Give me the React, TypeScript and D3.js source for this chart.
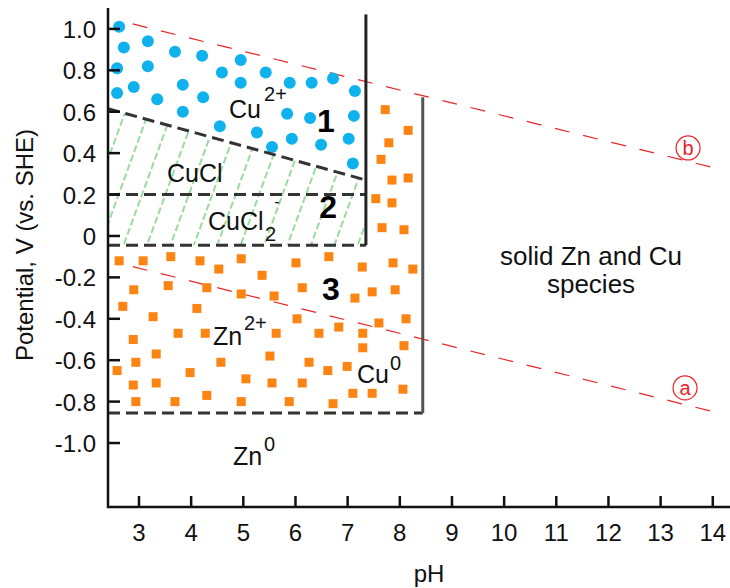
import React from "react";
import * as d3 from "d3";

const W = 730;
const H = 588;

// Axis domain and ticks
const pHDomain = [2.406, 14.33];
const vDomain = [1.101, -1.309];
const xTicks = [3, 4, 5, 6, 7, 8, 9, 10, 11, 12, 13, 14];
const yTicks = [1.0, 0.8, 0.6, 0.4, 0.2, 0, -0.2, -0.4, -0.6, -0.8, -1.0];
const yTickLabels = ["1.0", "0.8", "0.6", "0.4", "0.2", "0", "-0.2", "-0.4", "-0.6", "-0.8", "-1.0"];

// Region boundaries (pH, V)
const cuRegionPH = [2.406, 7.35];
const cuTopV = 1.07;
const cuBottomV = -0.045;
const cuclUpperLine = [[2.406, 0.615], [7.35, 0.27]];
const cuclLowerV = 0.2;
const znRegionPH = [2.406, 8.44];
const znRightTopV = 0.67;
const znBottomV = -0.855;

// Water stability lines (pH, V)
const lineA = [[2.88, -0.148], [14.03, -0.85]];
const lineB = [[2.88, 1.024], [14.03, 0.329]];

// Cu2+ markers (pH, V)
const cuDots = [
  [2.62, 1.01], [2.71, 0.91], [3.17, 0.94], [3.69, 0.89], [4.21, 0.87], [4.95, 0.85],
  [3.17, 0.82], [2.58, 0.81], [4.59, 0.79], [5.43, 0.79], [4.95, 0.74], [3.84, 0.73],
  [2.9, 0.72], [2.58, 0.69], [5.89, 0.74], [6.31, 0.74], [6.72, 0.76], [7.14, 0.7],
  [3.35, 0.66], [4.23, 0.67], [3.84, 0.6], [5.84, 0.59], [7.12, 0.58], [4.55, 0.53],
  [5.26, 0.5], [5.93, 0.47], [7.02, 0.47], [6.28, 0.57], [6.49, 0.44], [5.55, 0.43],
  [7.1, 0.35],
];

// Zn2+ markers (pH, V)
const znSquares = [
  [2.62, -0.12], [3.08, -0.12], [3.61, -0.1], [4.17, -0.12], [4.96, -0.11], [4.53, -0.16],
  [5.36, -0.19], [6.01, -0.13], [6.64, -0.1], [7.28, -0.15], [7.87, -0.13], [8.25, -0.16],
  [2.9, -0.26], [3.56, -0.24], [4.3, -0.25], [4.96, -0.28], [5.59, -0.29], [6.13, -0.25],
  [7.14, -0.3], [7.47, -0.27], [7.91, -0.26],
  [2.69, -0.34], [3.27, -0.39], [4.11, -0.35], [6.03, -0.4], [6.83, -0.44], [7.6, -0.42], [8.12, -0.4],
  [3.75, -0.47], [4.27, -0.47], [5.63, -0.47], [6.45, -0.47], [7.29, -0.47], [2.89, -0.5],
  [8.08, -0.53], [7.29, -0.54], [3.33, -0.57], [5.51, -0.58],
  [2.94, -0.61], [4.57, -0.61], [6.26, -0.61], [6.99, -0.63], [2.58, -0.65], [3.98, -0.66], [6.62, -0.65],
  [5.05, -0.69], [5.55, -0.71], [6.13, -0.71], [2.89, -0.72], [3.33, -0.71], [7.1, -0.76],
  [7.47, -0.76], [8.06, -0.74], [4.3, -0.77],
  [2.94, -0.8], [3.69, -0.8], [4.96, -0.8], [5.88, -0.8], [6.72, -0.81],
  [7.72, 0.61], [8.16, 0.51], [7.79, 0.45], [7.64, 0.37], [7.85, 0.27], [8.16, 0.28],
  [7.54, 0.18], [7.85, 0.16], [7.66, 0.04], [8.08, 0.03],
];

// Text labels (pH, V positions)
const labels = [
  { t: "Cu", pH: 4.726, v: 0.57, size: 25, w: 400, a: "start", c: "#111" },
  { t: "2+", pH: 5.397, v: 0.652, size: 20, w: 400, a: "start", c: "#111" },
  { t: "1", pH: 6.585, v: 0.502, size: 32, w: 700, a: "middle", c: "#000" },
  { t: "CuCl", pH: 3.537, v: 0.261, size: 25, w: 400, a: "start", c: "#111" },
  { t: "2", pH: 6.624, v: 0.087, size: 32, w: 700, a: "middle", c: "#000" },
  { t: "CuCl", pH: 4.323, v: 0.029, size: 25, w: 400, a: "start", c: "#111" },
  { t: "2", pH: 5.416, v: -0.024, size: 20, w: 400, a: "start", c: "#111" },
  { t: "-", pH: 5.646, v: 0.14, size: 16, w: 400, a: "middle", c: "#111" },
  { t: "3", pH: 6.681, v: -0.309, size: 32, w: 700, a: "middle", c: "#000" },
  { t: "Zn", pH: 4.419, v: -0.527, size: 25, w: 400, a: "start", c: "#111" },
  { t: "2+", pH: 5.013, v: -0.454, size: 20, w: 400, a: "start", c: "#111" },
  { t: "Cu", pH: 7.18, v: -0.71, size: 25, w: 400, a: "start", c: "#111" },
  { t: "0", pH: 7.812, v: -0.647, size: 20, w: 400, a: "start", c: "#111" },
  { t: "Zn", pH: 4.802, v: -1.106, size: 25, w: 400, a: "start", c: "#111" },
  { t: "0", pH: 5.397, v: -1.039, size: 20, w: 400, a: "start", c: "#111" },
  { t: "solid Zn and Cu", pH: 11.666, v: -0.14, size: 26, w: 400, a: "middle", c: "#111" },
  { t: "species", pH: 11.666, v: -0.275, size: 26, w: 400, a: "middle", c: "#111" },
];
const circledLabels = [
  { t: "b", pH: 13.526, v: 0.425 },
  { t: "a", pH: 13.468, v: -0.734 },
];

const FONT = "'Liberation Sans', Arial, sans-serif";
const RED = "#e8242a";
const DASH = "#333";

export default function App() {
  const x = d3.scaleLinear().domain(pHDomain).range([108, 730]);
  const y = d3.scaleLinear().domain(vDomain).range([8, 507]);
  const line = d3.line<number[]>().x((d) => x(d[0])).y((d) => y(d[1]));

  const hatchPoly = [
    [cuRegionPH[0], cuclUpperLine[0][1]],
    [cuRegionPH[1], cuclUpperLine[1][1]],
    [cuRegionPH[1], cuBottomV],
    [cuRegionPH[0], cuBottomV],
  ];
  const hatchPath = line(hatchPoly) + "Z";
  const sq = 9;

  return (
    <svg width={W} height={H} style={{ position: "absolute", left: 0, top: 0, background: "#fff" }} fontFamily={FONT}>
      <defs>
        <pattern id="hatch" width={22} height={20} patternUnits="userSpaceOnUse" patternTransform="rotate(20)">
          <line x1={2} y1={0} x2={2} y2={20} stroke="#2fb83c" strokeWidth={1} strokeDasharray="7,3" />
        </pattern>
      </defs>
      <rect x={0} y={0} width={W} height={H} fill="#fff" />

      {/* hatch region CuCl / CuCl2- */}
      <path d={hatchPath} fill="url(#hatch)" />

      {/* water lines */}
      <path d={line(lineB) || ""} fill="none" stroke={RED} strokeWidth={1.2} strokeDasharray="15,14" />
      <path d={line(lineA) || ""} fill="none" stroke={RED} strokeWidth={1.2} strokeDasharray="15,14" />

      {/* markers */}
      {cuDots.map((d, i) => (
        <circle key={"c" + i} cx={x(d[0])} cy={y(d[1])} r={6} fill="#0fb2ec" />
      ))}
      {znSquares.map((d, i) => (
        <rect key={"s" + i} x={x(d[0]) - sq / 2} y={y(d[1]) - sq / 2} width={sq} height={sq} fill="#fb8412" />
      ))}

      {/* boundaries */}
      <path d={line(cuclUpperLine) || ""} stroke={DASH} strokeWidth={3} strokeDasharray="12,6" fill="none" />
      <line x1={x(cuRegionPH[0])} x2={x(cuRegionPH[1])} y1={y(cuclLowerV)} y2={y(cuclLowerV)} stroke={DASH} strokeWidth={3} strokeDasharray="12,6" />
      <line x1={x(cuRegionPH[0])} x2={x(cuRegionPH[1])} y1={y(cuBottomV)} y2={y(cuBottomV)} stroke={DASH} strokeWidth={3} strokeDasharray="12,6" />
      <line x1={x(cuRegionPH[1])} x2={x(cuRegionPH[1])} y1={y(cuTopV)} y2={y(cuBottomV)} stroke="#222" strokeWidth={3} />
      <line x1={x(znRegionPH[0])} x2={x(znRegionPH[1])} y1={y(znBottomV)} y2={y(znBottomV)} stroke={DASH} strokeWidth={3} strokeDasharray="12,6" />
      <line x1={x(znRegionPH[1])} x2={x(znRegionPH[1])} y1={y(znRightTopV)} y2={y(znBottomV)} stroke="#555" strokeWidth={3} />

      {/* axes */}
      <line x1={108} x2={108} y1={8} y2={508} stroke="#111" strokeWidth={2.5} />
      <line x1={107} x2={730} y1={507} y2={507} stroke="#111" strokeWidth={2.5} />
      {yTicks.map((t, i) => (
        <g key={"yt" + i}>
          <line x1={108} x2={120} y1={y(t)} y2={y(t)} stroke="#111" strokeWidth={2.5} />
          <text x={96} y={y(t) + 9} textAnchor="end" fontSize={24} fill="#111">{yTickLabels[i]}</text>
        </g>
      ))}
      {xTicks.map((t, i) => (
        <g key={"xt" + i}>
          <line x1={x(t)} x2={x(t)} y1={507} y2={496} stroke="#111" strokeWidth={2.5} />
          <text x={x(t)} y={541} textAnchor="middle" fontSize={24} fill="#111">{t}</text>
        </g>
      ))}
      <text x={429} y={582} textAnchor="middle" fontSize={24} fill="#111">pH</text>
      <text transform="translate(33,245) rotate(-90)" textAnchor="middle" fontSize={24} fill="#111">Potential, V (vs. SHE)</text>

      {/* labels */}
      {labels.map((l, i) => (
        <text key={"l" + i} x={x(l.pH)} y={y(l.v)} textAnchor={l.a} fontSize={l.size} fontWeight={l.w} fill={l.c}>{l.t}</text>
      ))}
      {circledLabels.map((l, i) => (
        <g key={"cl" + i}>
          <circle cx={x(l.pH)} cy={y(l.v)} r={12} fill="#fff" stroke={RED} strokeWidth={1.2} />
          <text x={x(l.pH)} y={y(l.v) + 7} textAnchor="middle" fontSize={20} fill={RED}>{l.t}</text>
        </g>
      ))}
    </svg>
  );
}
